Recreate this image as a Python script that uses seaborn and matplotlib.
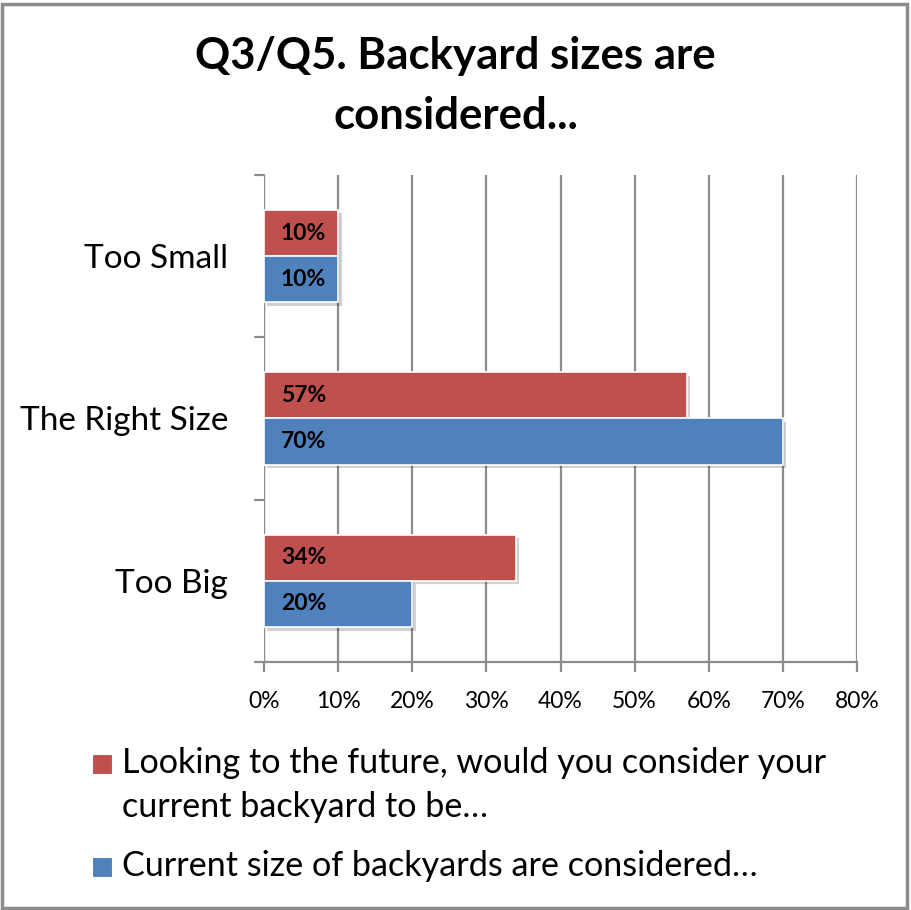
import matplotlib
matplotlib.use("Agg")
import matplotlib.pyplot as plt
import matplotlib.patheffects as pe
from matplotlib.patches import Rectangle
import seaborn as sns
import pandas as pd

categories = ["Too Small", "The Right Size", "Too Big"]
series_names = [
    "Looking to the future, would you consider your\ncurrent backyard to be\u2026",
    "Current size of backyards are considered\u2026",
]
future_vals = [10, 57, 34]
current_vals = [10, 70, 20]
colors = ["#C0504D", "#4F81BD"]
xticks = [0, 10, 20, 30, 40, 50, 60, 70, 80]

sns.set_theme(style="white")
plt.rcParams["font.family"] = ["Lato", "DejaVu Sans"]
plt.rcParams["text.color"] = "black"
plt.rcParams["xtick.color"] = "black"
plt.rcParams["ytick.color"] = "black"

df = pd.DataFrame({
    "category": categories * 2,
    "series": [series_names[0]] * 3 + [series_names[1]] * 3,
    "value": future_vals + current_vals,
})

W, H = 911, 910
fig = plt.figure(figsize=(W / 100, H / 100), dpi=100)
ax = fig.add_axes([264 / W, 1 - 662 / H, (857 - 264) / W, (662 - 175) / H])

sns.barplot(data=df, y="category", x="value", hue="series", order=categories,
            hue_order=series_names, palette=colors, saturation=1, orient="h",
            width=0.57, edgecolor="white", linewidth=1.2, ax=ax, legend=False,
            zorder=3)

shadow = [pe.SimplePatchShadow(offset=(2.5, -2.5), shadow_rgbFace="#000000", alpha=0.18),
          pe.Normal()]
for cont, vals in zip(ax.containers, [future_vals, current_vals]):
    for bar, v in zip(cont, vals):
        bar.set_path_effects(shadow)
        ax.text(bar.get_x() + 2.3, bar.get_y() + bar.get_height() / 2, f"{v}%",
                ha="left", va="center", fontsize=16.5, fontweight="bold",
                color="black", zorder=5)

ax.set_xlim(0, 80)
ax.set_ylim(2.5, -0.5)
ax.set_xticks(xticks)
ax.set_xticklabels([f"{t}%" for t in xticks], fontsize=16.5)
ax.set_yticks([0, 1, 2])
ax.set_yticklabels(categories, fontsize=24)
ax.set_xlabel("")
ax.set_ylabel("")
ax.xaxis.grid(True, color="#8C8C8C", linewidth=1.6, zorder=0)
ax.set_axisbelow(True)
for s in ["top", "right", "left"]:
    ax.spines[s].set_visible(False)
ax.spines["bottom"].set_color("#8C8C8C")
ax.spines["bottom"].set_linewidth(1.6)
ax.axvline(0, color="#8C8C8C", linewidth=1.6, zorder=1)

# tick marks: downward on x, category boundaries on y
ax.tick_params(axis="x", direction="out", length=7, width=1.6, color="#8C8C8C",
               pad=14, bottom=True)
ax.tick_params(axis="y", length=0, pad=26)
for yb in [-0.5, 0.5, 1.5, 2.5]:
    ax.plot([-1.2, 0], [yb, yb], color="#8C8C8C", linewidth=1.6, clip_on=False, zorder=1)

fig.text(0.5, 1 - 86 / H, "Q3/Q5. Backyard sizes are\nconsidered...", ha="center",
         va="center", fontsize=31.5, fontweight="bold", linespacing=1.58)

# legend: colour square beside the first line of each entry, lines 44 px apart
legend_baselines = [773, 876]
line_step = 44
for name, c, yb in zip(series_names, colors, legend_baselines):
    fig.add_artist(Rectangle((92 / W, 1 - (yb + 1) / H), 20 / W, 20 / H,
                             transform=fig.transFigure, facecolor=c,
                             edgecolor="white", linewidth=0.8))
    for i, line in enumerate(name.split("\n")):
        fig.text(122 / W, 1 - (yb + i * line_step) / H, line, ha="left",
                 va="baseline", fontsize=24.6)

fig.add_artist(Rectangle((0.002, 0.002), 0.994, 0.994, transform=fig.transFigure,
                         fill=False, edgecolor="#8C8C8C", linewidth=2.5))

fig.savefig("out.png", dpi=100, facecolor="white")
